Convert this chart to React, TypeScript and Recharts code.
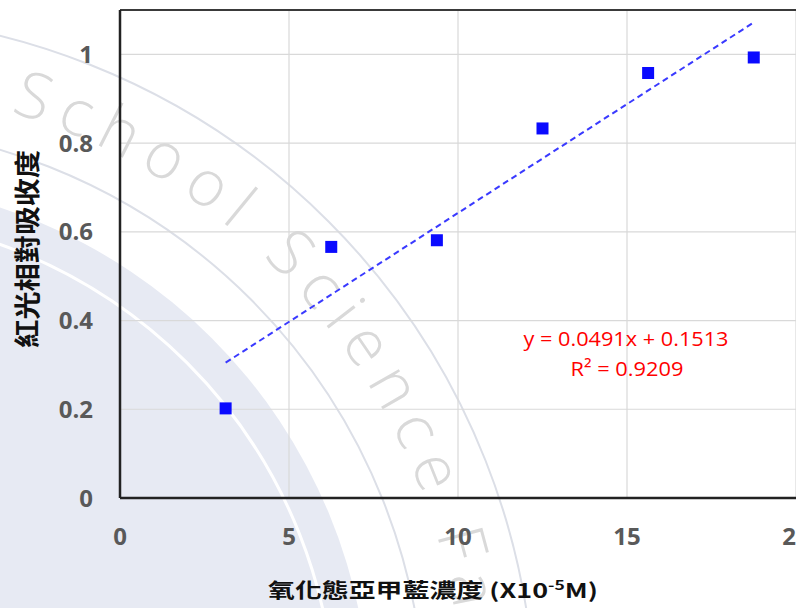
import React from 'react';
import {
  ScatterChart,
  Scatter,
  XAxis,
  YAxis,
  CartesianGrid,
  ReferenceLine,
  Customized,
} from 'recharts';

// concentration (x10^-5 M) and red-light relative absorbance
const concentration = [3.125, 6.25, 9.375, 12.5, 15.625, 18.75];
const absorbance = [0.202, 0.566, 0.581, 0.833, 0.958, 0.993];

// linear trendline end points (y = 0.0491x + 0.1513)
const trendX = [3.125, 18.75];
const trendY = [0.305, 1.072];

const xTicks = [0, 5, 10, 15, 20];
const yTicks = [0, 0.2, 0.4, 0.6, 0.8, 1];

const equationText = 'y = 0.0491x + 0.1513';
const r2Text = 'R² = 0.9209';
const xTitle = '氧化態亞甲藍濃度';
const yTitle = '紅光相對吸收度';
const watermark = 'School Science Fair';

const points = concentration.map((x, i) => ({ x, y: absorbance[i] }));
const trend = trendX.map((x, i) => ({ x, y: trendY[i] }));

const XTick = (props: any) => (
  <text
    x={props.x}
    y={props.y}
    dy={39}
    textAnchor="middle"
    fill="#595959"
    fontSize={24}
    fontWeight={700}
    fontFamily="'Open Sans', sans-serif"
  >
    {props.payload.value}
  </text>
);

const YTick = (props: any) => (
  <text
    x={props.x}
    y={props.y}
    dx={-19}
    dy={8.5}
    textAnchor="end"
    fill="#595959"
    fontSize={24}
    fontWeight={700}
    fontFamily="'Open Sans', sans-serif"
  >
    {props.payload.value}
  </text>
);

const SquareDot = (props: any) => (
  <rect x={props.cx - 6} y={props.cy - 6} width={12} height={12} fill="#0a0aff" />
);

const Titles = () => (
  <g>
    <text
      x={626}
      y={346}
      textAnchor="middle"
      fill="#ff0000"
      fontSize={20}
      fontFamily="'Open Sans', sans-serif"
      textLength={205}
      lengthAdjust="spacingAndGlyphs"
    >
      {equationText}
    </text>
    <text
      x={627}
      y={376}
      textAnchor="middle"
      fill="#ff0000"
      fontSize={20}
      fontFamily="'Open Sans', sans-serif"
      textLength={113}
      lengthAdjust="spacingAndGlyphs"
    >
      {r2Text}
    </text>
    <text
      x={268}
      y={598}
      fill="#111"
      fontSize={20}
      fontWeight={700}
      fontFamily="'Noto Sans CJK TC', sans-serif"
      textLength={330}
      lengthAdjust="spacingAndGlyphs"
    >
      {xTitle} (X10
      <tspan dy={-8} fontSize={13}>-5</tspan>
      <tspan dy={8}>M)</tspan>
    </text>
    <text
      x={25}
      y={249}
      transform="rotate(-90 25 249)"
      textAnchor="middle"
      dominantBaseline="central"
      fill="#111"
      fontSize={26}
      fontWeight={700}
      fontFamily="'Noto Sans CJK TC', sans-serif"
      textLength={198}
      lengthAdjust="spacingAndGlyphs"
    >
      {yTitle}
    </text>
  </g>
);

// faint circular watermark behind the chart
const cx = -170;
const cy = 720;
const arcPt = (r: number, deg: number) => {
  const a = (deg * Math.PI) / 180;
  return `${cx + r * Math.cos(a)} ${cy + r * Math.sin(a)}`;
};
const textR = 634;
const textPath = `M ${arcPt(textR, -73.5)} A ${textR} ${textR} 0 0 1 ${arcPt(textR, 20)}`;

const Watermark = () => (
  <svg width={796} height={608} style={{ position: 'absolute', left: 0, top: 0 }}>
    <defs>
      <path id="wm-arc" d={textPath} />
    </defs>
    <circle cx={cx} cy={cy} r={540} fill="#e7eaf3" />
    <circle cx={cx} cy={cy} r={505} fill="none" stroke="#ffffff" strokeWidth={3} />
    <circle cx={cx} cy={cy} r={595} fill="none" stroke="#dcdfe7" strokeWidth={2} />
    <circle cx={cx} cy={cy} r={705} fill="none" stroke="#dcdfe7" strokeWidth={2} />
    <text
      fill="#d9d9d9"
      fontSize={64}
      fontWeight={300}
      letterSpacing={12}
      fontFamily="'Open Sans', sans-serif"
    >
      <textPath href="#wm-arc">{watermark}</textPath>
    </text>
  </svg>
);

const App: React.FC = () => {
  return (
    <div
      style={{
        position: 'fixed',
        left: 0,
        top: 0,
        width: 796,
        height: 608,
        overflow: 'hidden',
        background: '#ffffff',
      }}
    >
      <Watermark />
      <div style={{ position: 'absolute', left: 0, top: 0 }}>
        <ScatterChart width={840} height={608} margin={{ top: 10, right: 44, bottom: 0, left: 0 }}>
          <CartesianGrid stroke="#d9d9d9" strokeWidth={1.2} />
          <XAxis
            type="number"
            dataKey="x"
            domain={[0, 20]}
            ticks={xTicks}
            interval={0}
            height={110}
            tickLine={false}
            axisLine={{ stroke: '#222', strokeWidth: 2.5 }}
            tick={<XTick />}
          />
          <YAxis
            type="number"
            dataKey="y"
            domain={[0, 1.1]}
            ticks={yTicks}
            interval={0}
            width={120}
            tickLine={false}
            axisLine={{ stroke: '#222', strokeWidth: 2.5 }}
            tick={<YTick />}
          />
          <ReferenceLine y={1.1} stroke="#3a3a3a" strokeWidth={2} />
          <Scatter
            data={trend}
            line={{ stroke: '#3a3aff', strokeWidth: 2, strokeDasharray: '6 4' }}
            shape={() => <g />}
            isAnimationActive={false}
          />
          <Scatter data={points} shape={<SquareDot />} isAnimationActive={false} />
          <Customized component={Titles} />
        </ScatterChart>
      </div>
    </div>
  );
};

export default App;
